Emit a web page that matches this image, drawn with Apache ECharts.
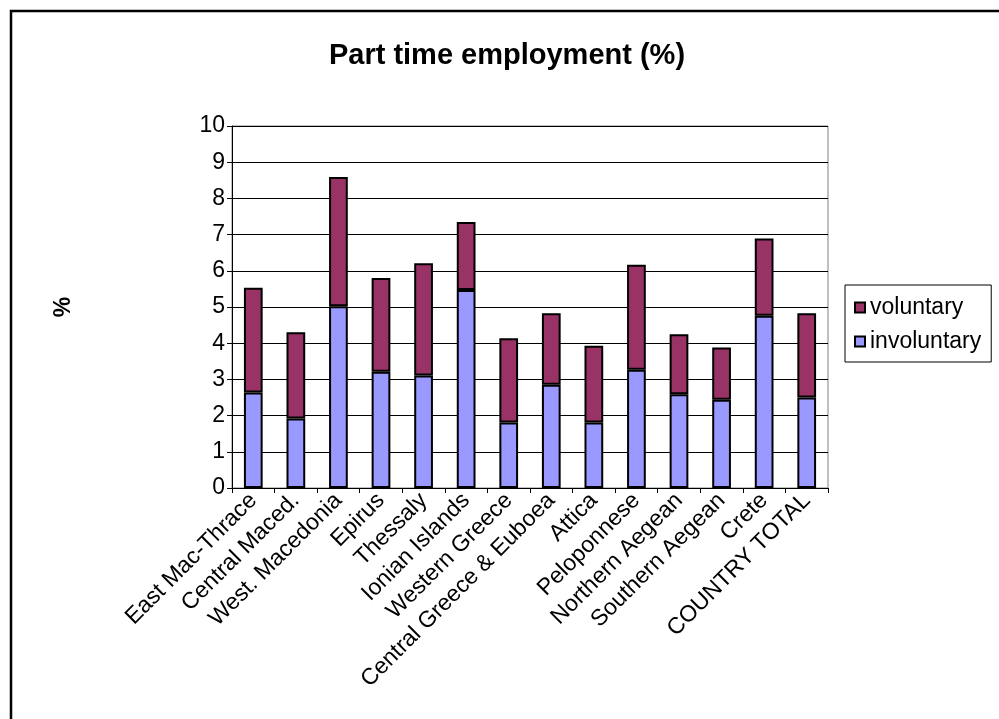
<!DOCTYPE html>
<html>
<head>
<meta charset="utf-8">
<style>
  html, body { margin: 0; padding: 0; background: #fff; }
  #chart { width: 999px; height: 719px; }
</style>
<script src="https://cdn.jsdelivr.net/npm/echarts@6/dist/echarts.min.js"></script>
</head>
<body>
<div id="chart"></div>
<script>
// Regions of Greece, part-time employment shares (%)
const regions = [
  'East Mac-Thrace', 'Central Maced.', 'West. Macedonia', 'Epirus', 'Thessaly',
  'Ionian Islands', 'Western Greece', 'Central Greece & Euboea', 'Attica',
  'Peloponnese', 'Northern Aegean', 'Southern Aegean', 'Crete', 'COUNTRY TOTAL'
];
const involuntary = [2.64, 1.92, 5.02, 3.21, 3.11, 5.47, 1.81, 2.85, 1.81, 3.27, 2.59, 2.44, 4.76, 2.50];
const voluntary   = [2.89, 2.38, 3.57, 2.59, 3.10, 1.88, 2.33, 1.98, 2.12, 2.90, 1.66, 1.44, 2.13, 2.33];
const yTicks = [0, 1, 2, 3, 4, 5, 6, 7, 8, 9, 10];

const FONT = '"Liberation Sans", Arial, sans-serif';
const chart = echarts.init(document.getElementById('chart'), null, { renderer: 'canvas' });

chart.setOption({
  animation: false,
  backgroundColor: '#fff',
  textStyle: { fontFamily: FONT, color: '#000' },
  title: {
    text: 'Part time employment (%)',
    left: 502, top: 36, textAlign: 'center',
    textStyle: { fontFamily: FONT, fontSize: 29, fontWeight: 'bold', color: '#000' }
  },
  legend: {
    orient: 'vertical',
    left: 845, top: 285,
    padding: [11, 10, 9, 9],
    itemGap: 11,
    itemWidth: 10, itemHeight: 10,
    borderColor: '#000', borderWidth: 1,
    backgroundColor: '#fff',
    data: [{ name: 'voluntary', icon: 'rect' }, { name: 'involuntary', icon: 'rect' }],
    textStyle: { fontFamily: FONT, fontSize: 23, color: '#000', padding: [0, 0, 0, 0] }
  },
  grid: {
    left: 232, right: 171, top: 126, bottom: 231,
    show: true, borderColor: '#808080', borderWidth: 1, backgroundColor: '#fff'
  },
  xAxis: {
    type: 'category',
    data: regions,
    boundaryGap: true,
    axisLine: { lineStyle: { color: '#000', width: 1 } },
    axisTick: { show: true, alignWithLabel: false, length: 5, inside: false, lineStyle: { color: '#000' } },
    axisLabel: {
      interval: 0, rotate: 45, margin: 9,
      fontFamily: FONT, fontSize: 23, color: '#000'
    },
    splitLine: { show: false }
  },
  yAxis: {
    type: 'value',
    min: yTicks[0], max: yTicks[yTicks.length - 1], interval: 1,
    name: '%',
    nameLocation: 'middle',
    nameGap: 157,
    nameRotate: 90,
    nameTextStyle: { fontFamily: FONT, fontSize: 23, fontWeight: 'bold', color: '#000' },
    axisLine: { show: true, lineStyle: { color: '#000', width: 1 } },
    axisTick: { show: true, length: 5, lineStyle: { color: '#000' } },
    axisLabel: { margin: 7, fontFamily: FONT, fontSize: 23, color: '#000' },
    splitLine: { show: true, lineStyle: { color: '#000', width: 1 } }
  },
  series: [
    {
      name: 'involuntary', type: 'bar', stack: 'pt',
      data: involuntary, barWidth: '44%',
      itemStyle: { color: '#9999FF', borderColor: '#000', borderWidth: 2 }
    },
    {
      name: 'voluntary', type: 'bar', stack: 'pt',
      data: voluntary, barWidth: '44%',
      itemStyle: { color: '#993366', borderColor: '#000', borderWidth: 2 }
    }
  ],
  graphic: [
    {
      type: 'rect', silent: true, z: 100,
      shape: { x: 11, y: 11, width: 1100, height: 800 },
      style: { fill: 'none', stroke: '#000', lineWidth: 2.5 }
    }
  ]
});
</script>
</body>
</html>
